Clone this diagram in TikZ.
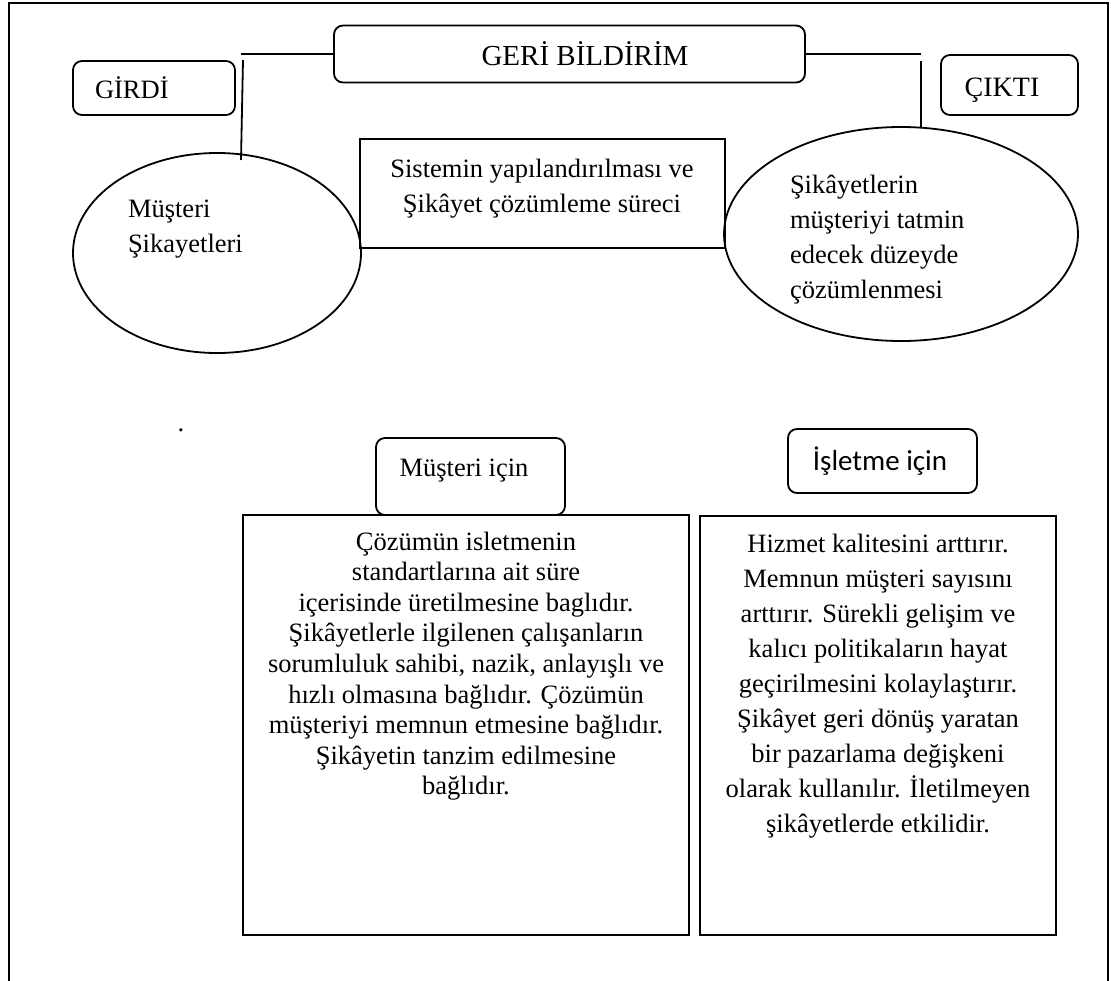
\documentclass[tikz,border=0pt]{standalone}
\usepackage{fontspec}
\setmainfont{Liberation Serif}
\newfontfamily\sansfont{Carlito}
\usetikzlibrary{shapes.geometric}
\begin{document}
\begin{tikzpicture}[x=1pt,y=-1pt,
  line width=1.8pt,
  every node/.style={inner sep=0pt, outer sep=0pt},
  roundbox/.style={draw, rectangle, rounded corners=9pt},
  plainbox/.style={draw, rectangle},
  oval/.style={draw, ellipse},
  body/.style={font=\fontsize{26.5}{35}\selectfont},
  tightbody/.style={font=\fontsize{26.5}{30.6}\selectfont},
  title/.style={font=\fontsize{29}{35}\selectfont},
]
\useasboundingbox (0,0) rectangle (1111,980);
\begin{scope}
  \clip (0,0) rectangle (1111,980);
  \draw[line width=2pt] (9,3) rectangle (1108,1000);
\end{scope}

% boxes
\node[roundbox, minimum width=471pt, minimum height=57pt] (geri) at (569.5,54) {};
\node[roundbox, minimum width=162pt, minimum height=54pt] (girdi) at (154,88) {};
\node[roundbox, minimum width=137pt, minimum height=60pt] (cikti) at (1009.5,85) {};
\node[plainbox, minimum width=365pt, minimum height=109pt] (surec) at (542.5,193.5) {};
\node[oval, minimum width=288pt, minimum height=200pt] (sikayet) at (217,253) {};
\node[oval, minimum width=354pt, minimum height=214pt] (cozum) at (901,234) {};
\node[roundbox, minimum width=189pt, minimum height=77pt] (musteri) at (470.5,476.5) {};
\node[roundbox, minimum width=189pt, minimum height=64pt] (isletme) at (882.5,461) {};
\node[plainbox, minimum width=446pt, minimum height=420pt] (mbox) at (466,725) {};
\node[plainbox, minimum width=356pt, minimum height=419pt] (ibox) at (878,725.5) {};

% texts
\node[title, anchor=base] (geriT) at (585,65) {GERİ BİLDİRİM};
\node[body, anchor=base west] (girdiT) at (95,98) {GİRDİ};
\node[font=\fontsize{28}{35}\selectfont, anchor=base] (ciktiT) at (1002,96) {ÇIKTI};
\node[body, align=center, anchor=north] (surecT) at (542,157)
  {\rule{0pt}{20pt}Sistemin yapılandırılması ve\\Şikâyet çözümleme süreci};
\node[body, align=left, anchor=north west] (sikayetT) at (128,197)
  {\rule{0pt}{20pt}Müşteri\\Şikayetleri};
\node[body, align=left, anchor=north west] (cozumT) at (790,173)
  {\rule{0pt}{20pt}Şikâyetlerin\\müşteriyi tatmin\\edecek düzeyde\\çözümlenmesi};
\node[body, anchor=base] (dot) at (181,431) {.};
\node[body, anchor=base] (musteriT) at (464,476) {Müşteri için};
\node[font=\sansfont\fontsize{29}{35}\selectfont, anchor=base] (isletmeT) at (880,470) {İşletme için};
\node[tightbody, align=center, anchor=north] (mboxT) at (466,530)
  {\rule{0pt}{20pt}Çözümün isletmenin\\
   standartlarına ait süre\\
   içerisinde üretilmesine baglıdır.\\
   Şikâyetlerle ilgilenen çalışanların\\
   sorumluluk sahibi, nazik, anlayışlı ve\\
   hızlı olmasına bağlıdır. Çözümün\\
   müşteriyi memnun etmesine bağlıdır.\\
   Şikâyetin tanzim edilmesine\\
   bağlıdır.};
\node[body, align=center, anchor=north] (iboxT) at (878,532)
  {\rule{0pt}{20pt}Hizmet kalitesini arttırır.\\
   Memnun müşteri sayısını\\
   arttırır. Sürekli gelişim ve\\
   kalıcı politikaların hayat\\
   geçirilmesini kolaylaştırır.\\
   Şikâyet geri dönüş yaratan\\
   bir pazarlama değişkeni\\
   olarak kullanılır. İletilmeyen\\
   şikâyetlerde etkilidir.};

% feedback connectors
\coordinate (lv) at (243,60);
\coordinate (le) at (241,160);
\coordinate (rv) at (921,61);
\coordinate (re) at (921,128);
\draw (geri.west) -- (geri.west -| le);
\draw (lv) -- (le);
\draw (geri.east) -- (geri.east -| re);
\draw (rv) -- (re);
\end{tikzpicture}
\end{document}
